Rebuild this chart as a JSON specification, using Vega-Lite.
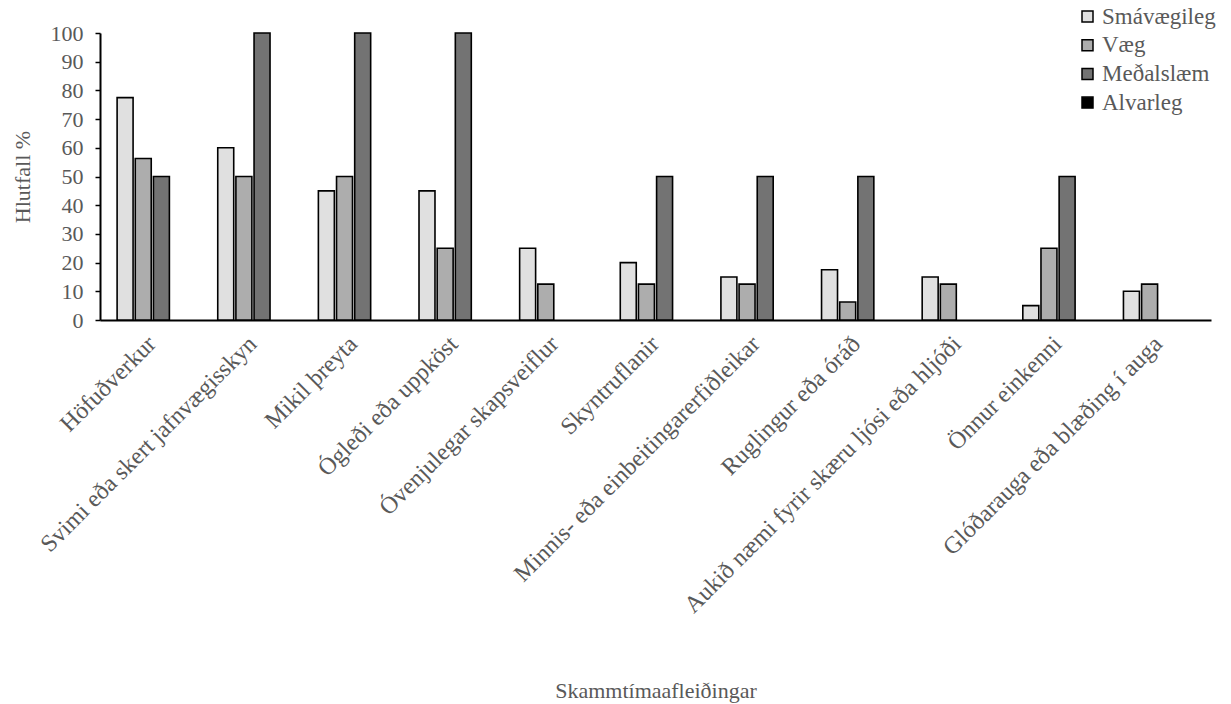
{
  "$schema": "https://vega.github.io/schema/vega-lite/v6.json",
  "width": 1111,
  "height": 287,
  "autosize": {"type": "none"},
  "padding": {"left": 100, "top": 33, "right": 20, "bottom": 384},
  "background": "white",
  "data": {
    "values": [
      {"cat": "Höfuðverkur", "sev": "Smávægileg", "v": 77.5},
      {"cat": "Höfuðverkur", "sev": "Væg", "v": 56.25},
      {"cat": "Höfuðverkur", "sev": "Meðalslæm", "v": 50},
      {"cat": "Höfuðverkur", "sev": "Alvarleg", "v": 0},
      {"cat": "Svimi eða skert jafnvægisskyn", "sev": "Smávægileg", "v": 60},
      {"cat": "Svimi eða skert jafnvægisskyn", "sev": "Væg", "v": 50},
      {"cat": "Svimi eða skert jafnvægisskyn", "sev": "Meðalslæm", "v": 100},
      {"cat": "Svimi eða skert jafnvægisskyn", "sev": "Alvarleg", "v": 0},
      {"cat": "Mikil þreyta", "sev": "Smávægileg", "v": 45},
      {"cat": "Mikil þreyta", "sev": "Væg", "v": 50},
      {"cat": "Mikil þreyta", "sev": "Meðalslæm", "v": 100},
      {"cat": "Mikil þreyta", "sev": "Alvarleg", "v": 0},
      {"cat": "Ógleði eða uppköst", "sev": "Smávægileg", "v": 45},
      {"cat": "Ógleði eða uppköst", "sev": "Væg", "v": 25},
      {"cat": "Ógleði eða uppköst", "sev": "Meðalslæm", "v": 100},
      {"cat": "Ógleði eða uppköst", "sev": "Alvarleg", "v": 0},
      {"cat": "Óvenjulegar skapsveiflur", "sev": "Smávægileg", "v": 25},
      {"cat": "Óvenjulegar skapsveiflur", "sev": "Væg", "v": 12.5},
      {"cat": "Óvenjulegar skapsveiflur", "sev": "Meðalslæm", "v": 0},
      {"cat": "Óvenjulegar skapsveiflur", "sev": "Alvarleg", "v": 0},
      {"cat": "Skyntruflanir", "sev": "Smávægileg", "v": 20},
      {"cat": "Skyntruflanir", "sev": "Væg", "v": 12.5},
      {"cat": "Skyntruflanir", "sev": "Meðalslæm", "v": 50},
      {"cat": "Skyntruflanir", "sev": "Alvarleg", "v": 0},
      {"cat": "Minnis- eða einbeitingarerfiðleikar", "sev": "Smávægileg", "v": 15},
      {"cat": "Minnis- eða einbeitingarerfiðleikar", "sev": "Væg", "v": 12.5},
      {"cat": "Minnis- eða einbeitingarerfiðleikar", "sev": "Meðalslæm", "v": 50},
      {"cat": "Minnis- eða einbeitingarerfiðleikar", "sev": "Alvarleg", "v": 0},
      {"cat": "Ruglingur eða óráð", "sev": "Smávægileg", "v": 17.5},
      {"cat": "Ruglingur eða óráð", "sev": "Væg", "v": 6.25},
      {"cat": "Ruglingur eða óráð", "sev": "Meðalslæm", "v": 50},
      {"cat": "Ruglingur eða óráð", "sev": "Alvarleg", "v": 0},
      {"cat": "Aukið næmi fyrir skæru ljósi eða hljóði", "sev": "Smávægileg", "v": 15},
      {"cat": "Aukið næmi fyrir skæru ljósi eða hljóði", "sev": "Væg", "v": 12.5},
      {"cat": "Aukið næmi fyrir skæru ljósi eða hljóði", "sev": "Meðalslæm", "v": 0},
      {"cat": "Aukið næmi fyrir skæru ljósi eða hljóði", "sev": "Alvarleg", "v": 0},
      {"cat": "Önnur einkenni", "sev": "Smávægileg", "v": 5},
      {"cat": "Önnur einkenni", "sev": "Væg", "v": 25},
      {"cat": "Önnur einkenni", "sev": "Meðalslæm", "v": 50},
      {"cat": "Önnur einkenni", "sev": "Alvarleg", "v": 0},
      {"cat": "Glóðarauga eða blæðing í auga", "sev": "Smávægileg", "v": 10},
      {"cat": "Glóðarauga eða blæðing í auga", "sev": "Væg", "v": 12.5},
      {"cat": "Glóðarauga eða blæðing í auga", "sev": "Meðalslæm", "v": 0},
      {"cat": "Glóðarauga eða blæðing í auga", "sev": "Alvarleg", "v": 0}
    ]
  },
  "transform": [{"filter": "datum.v > 0"}],
  "mark": {"type": "bar", "stroke": "black", "strokeWidth": 1.6},
  "encoding": {
    "x": {
      "field": "cat",
      "type": "nominal",
      "sort": null,
      "scale": {"paddingInner": 0.3, "paddingOuter": 0.17},
      "axis": {
        "title": "Skammtímaafleiðingar",
        "labelAngle": -45,
        "labelAlign": "right",
        "labelBaseline": "middle",
        "labelPadding": 20,
        "labelFontSize": 24,
        "ticks": false,
        "domainColor": "black",
        "domainWidth": 2,
        "titlePadding": 160
      }
    },
    "xOffset": {
      "field": "sev",
      "type": "nominal",
      "sort": ["Smávægileg", "Væg", "Meðalslæm", "Alvarleg"],
      "scale": {"domain": ["Smávægileg", "Væg", "Meðalslæm", "Alvarleg"], "paddingInner": 0.12}
    },
    "y": {
      "field": "v",
      "type": "quantitative",
      "scale": {"domain": [0, 100]},
      "axis": {
        "title": "Hlutfall %",
        "values": [0, 10, 20, 30, 40, 50, 60, 70, 80, 90, 100],
        "grid": false,
        "domainColor": "black",
        "domainWidth": 2,
        "tickColor": "black",
        "tickSize": 5,
        "tickWidth": 1.5,
        "labelPadding": 12,
        "labelFontSize": 22,
        "titlePadding": 16
      }
    },
    "fill": {
      "field": "sev",
      "type": "nominal",
      "scale": {
        "domain": ["Smávægileg", "Væg", "Meðalslæm", "Alvarleg"],
        "range": ["#e0e0e0", "#adadad", "#737373", "#000000"]
      },
      "legend": {
        "title": null,
        "orient": "none",
        "legendX": 976,
        "legendY": -28,
        "symbolType": "square",
        "symbolSize": 121,
        "symbolStrokeColor": "black",
        "symbolStrokeWidth": 1.5,
        "symbolOpacity": 1,
        "rowPadding": 4.7,
        "labelOffset": 3,
        "labelFont": "Liberation Serif",
        "labelFontSize": 23,
        "labelColor": "#595959"
      }
    }
  },
  "config": {
    "font": "Liberation Serif",
    "view": {"stroke": null},
    "axis": {
      "labelFont": "Liberation Serif",
      "labelColor": "#595959",
      "titleFont": "Liberation Serif",
      "titleFontSize": 22,
      "titleFontWeight": "normal",
      "titleColor": "#595959",
      "labelLimit": 0
    },
    "legend": {
      "labelFont": "Liberation Serif",
      "labelLimit": 0
    }
  }
}
